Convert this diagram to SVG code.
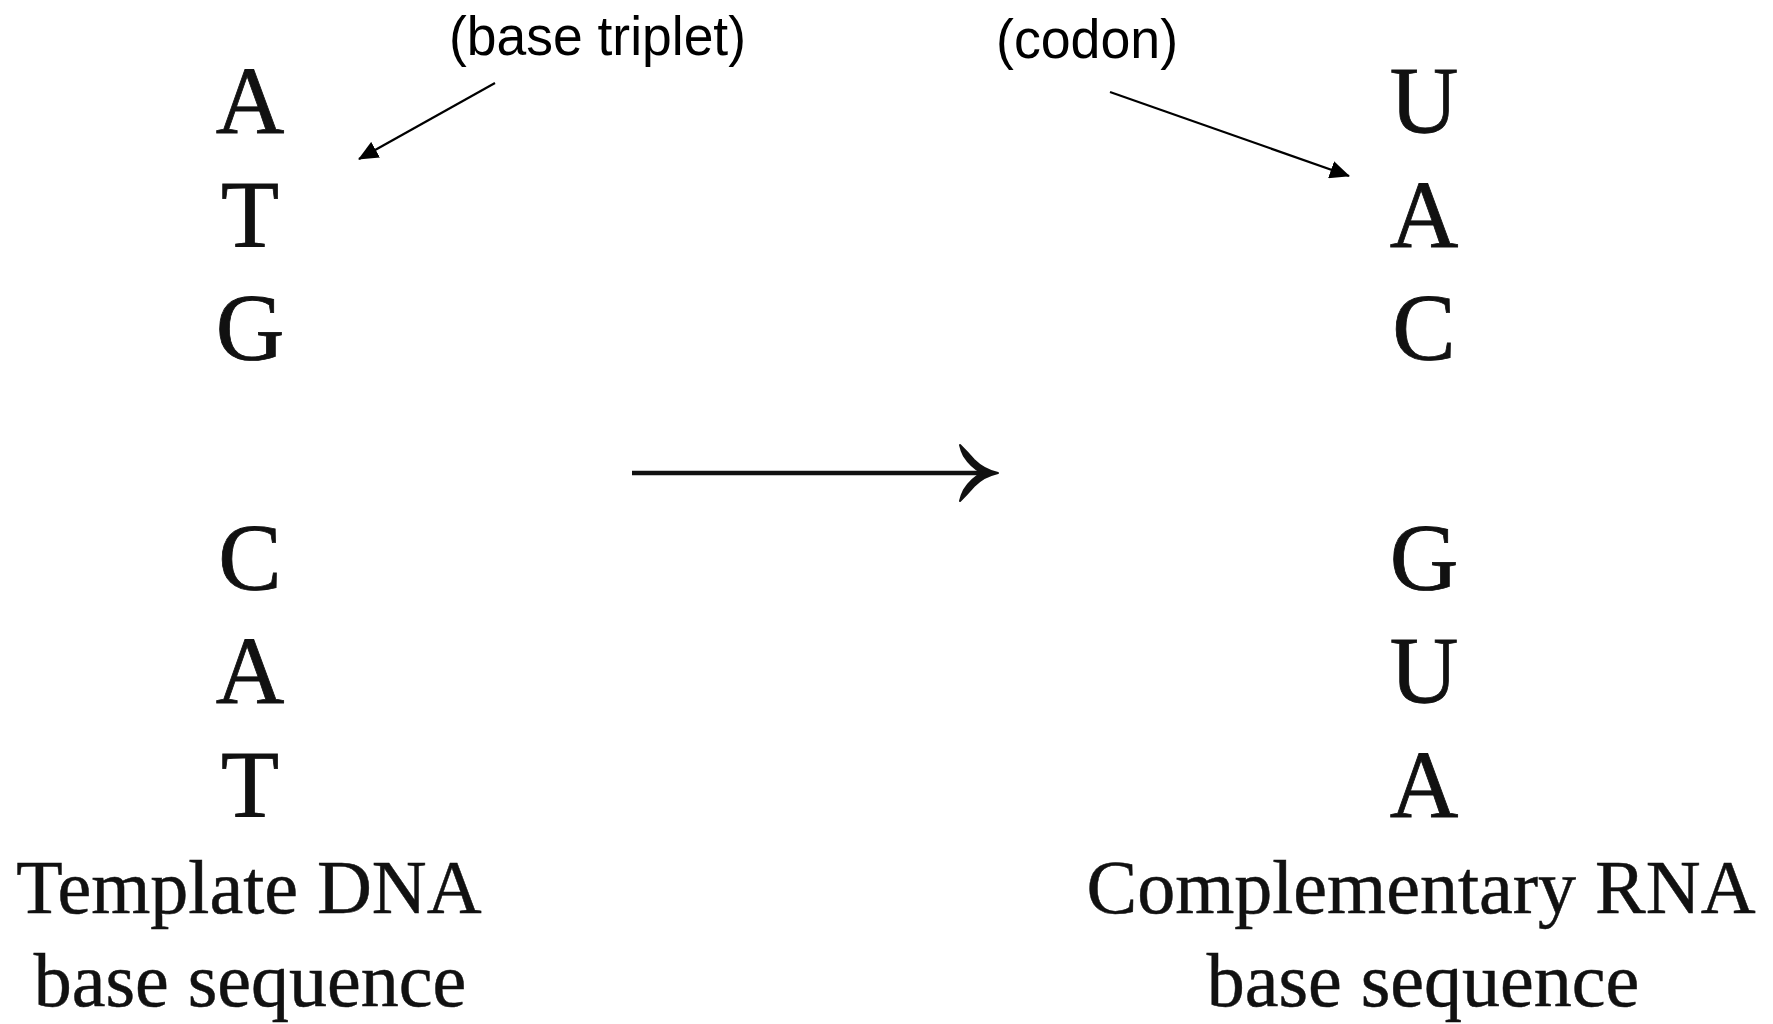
<svg xmlns="http://www.w3.org/2000/svg" width="1773" height="1024" viewBox="0 0 1773 1024">
<defs>
<style>
.base{font-family:"Liberation Serif","Times New Roman",serif;font-size:95px;fill:#111;stroke:#111;stroke-width:0.8;text-anchor:middle}
.cap{font-family:"Liberation Serif","Times New Roman",serif;font-size:76px;fill:#111;stroke:#111;stroke-width:0.5;text-anchor:middle}
.note{font-family:"Liberation Sans",Arial,sans-serif;font-size:56px;fill:#000}
.ptr{stroke:#000;stroke-width:2.2;fill:none;marker-end:url(#tri)}
</style>
<marker id="tri" markerUnits="userSpaceOnUse" markerWidth="20" markerHeight="18" viewBox="0 0 20 18" refX="19" refY="9" orient="auto">
<path d="M0,0 L20,9 L0,18 Z" fill="#000"/>
</marker>
</defs>
<rect width="1773" height="1024" fill="#fff"/>
<g id="dna">
<text class="base" x="250" y="133">A</text>
<text class="base" x="250" y="247">T</text>
<text class="base" x="250" y="360">G</text>
<text class="base" x="250" y="590">C</text>
<text class="base" x="250" y="703">A</text>
<text class="base" x="250" y="817">T</text>
<text class="cap" x="249" y="913">Template DNA</text>
<text class="cap" x="250" y="1006">base sequence</text>
</g>
<g id="rna">
<text class="base" x="1424" y="133">U</text>
<text class="base" x="1424" y="247">A</text>
<text class="base" x="1424" y="360">C</text>
<text class="base" x="1424" y="590">G</text>
<text class="base" x="1424" y="703">U</text>
<text class="base" x="1424" y="817">A</text>
<text class="cap" x="1421" y="913">Complementary RNA</text>
<text class="cap" x="1423" y="1006">base sequence</text>
</g>
<g id="label-triplet">
<text class="note" x="449" y="55" textLength="297" lengthAdjust="spacingAndGlyphs">(base triplet)</text>
</g>
<g id="label-codon">
<text class="note" x="996" y="58" textLength="182" lengthAdjust="spacingAndGlyphs">(codon)</text>
</g>
<g id="connectors">
<line class="ptr" x1="495" y1="83" x2="359" y2="159"/>
<line class="ptr" x1="1110" y1="92" x2="1349" y2="176"/>
<line x1="632" y1="473" x2="988" y2="473" stroke="#111" stroke-width="4.5"/>
<path d="M960,445 Q967,452 974,460 Q984,470 998,473 Q984,476 974,486 Q967,494 960,501 Q961,496 964,490 Q971,479 982,473 Q971,467 964,456 Q961,450 960,445 Z" fill="#111" stroke="#111" stroke-width="2" stroke-linejoin="round"/>
</g>
</svg>
